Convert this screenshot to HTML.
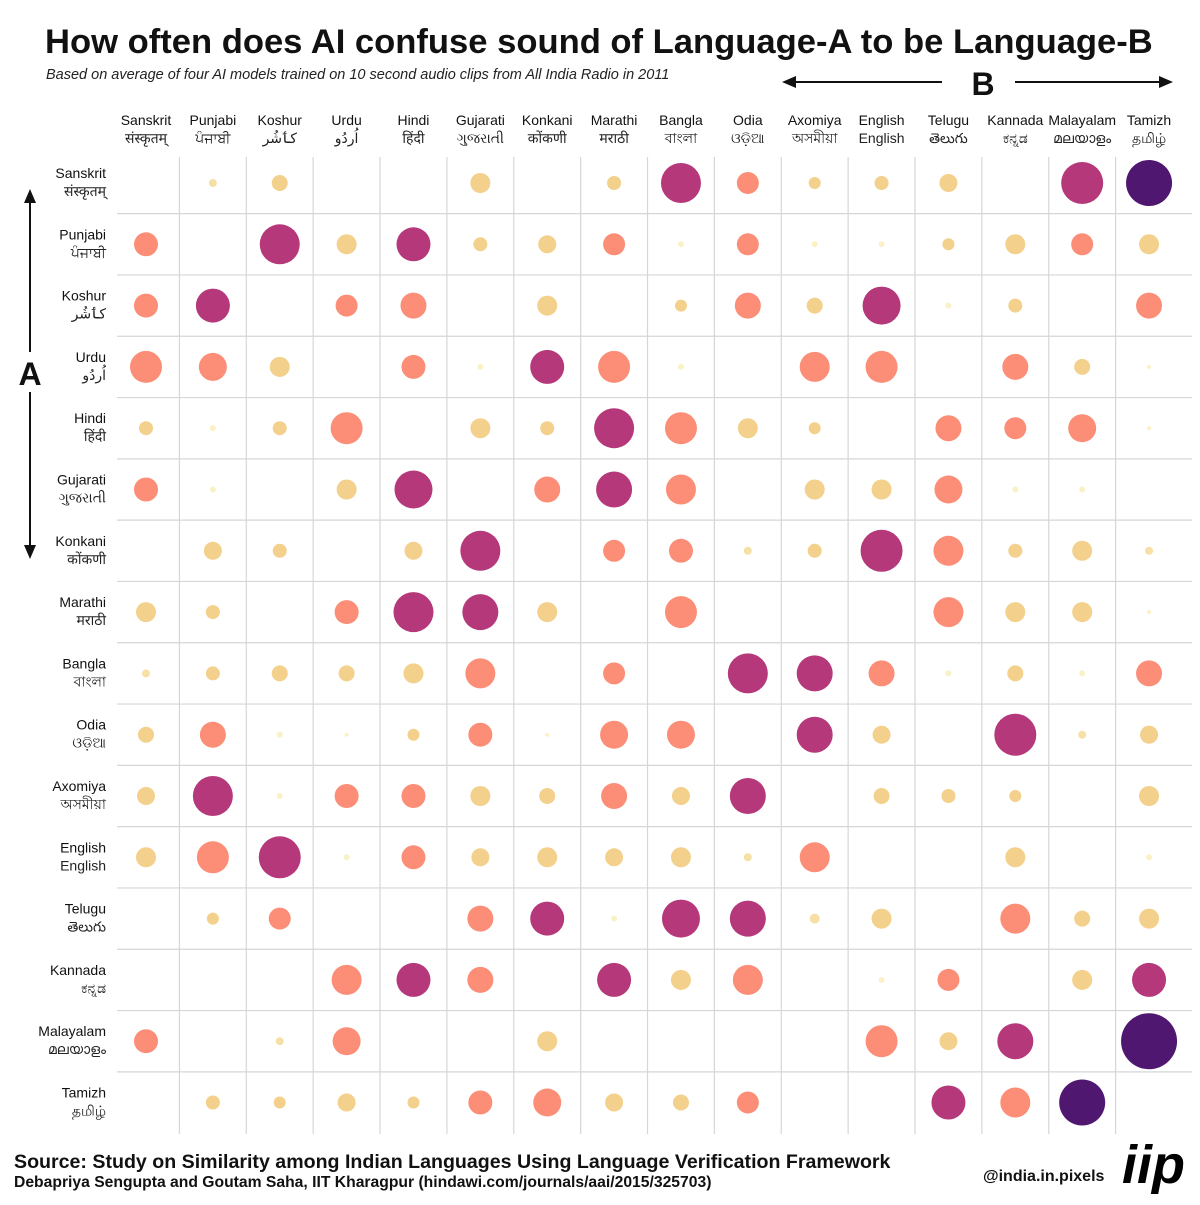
<!DOCTYPE html>
<html><head><meta charset="utf-8"><style>
body{margin:0;background:#fff;}
svg text{font-family:"Liberation Sans","DejaVu Sans",sans-serif;}
</style></head><body>
<svg id="chart" width="1200" height="1200" viewBox="0 0 1200 1200" xmlns="http://www.w3.org/2000/svg">
<rect width="1200" height="1200" fill="#fff"/>
<text x="45" y="53" font-size="34.6" font-weight="bold" fill="#111">How often does AI confuse sound of Language-A to be Language-B</text>
<text x="46" y="79" font-size="14.5" font-style="italic" fill="#222">Based on average of four AI models trained on 10 second audio clips from All India Radio in 2011</text>
<g>
<line x1="792" y1="82" x2="942" y2="82" stroke="#111" stroke-width="2"/>
<polygon points="782,82 796,76 796,88" fill="#111"/>
<text x="983" y="95" font-size="32" font-weight="bold" text-anchor="middle" fill="#111">B</text>
<line x1="1015" y1="82" x2="1162" y2="82" stroke="#111" stroke-width="2"/>
<polygon points="1173,82 1159,76 1159,88" fill="#111"/>
</g>
<g>
<line x1="30" y1="200" x2="30" y2="548" stroke="#111" stroke-width="2"/>
<polygon points="30,189 24,203 36,203" fill="#111"/>
<polygon points="30,559 24,545 36,545" fill="#111"/>
<rect x="12" y="352" width="36" height="40" fill="#fff"/>
<text x="30" y="385" font-size="32" font-weight="bold" text-anchor="middle" fill="#111">A</text>
</g>
<g id="grid"></g>
<g id="collabels"></g>
<g id="rowlabels"></g>
<g id="bubbles"></g>
<text x="14" y="1168" font-size="19.6" font-weight="bold" fill="#111">Source: Study on Similarity among Indian Languages Using Language Verification Framework</text>
<text x="14" y="1187" font-size="15.7" font-weight="bold" fill="#111">Debapriya Sengupta and Goutam Saha, IIT Kharagpur (hindawi.com/journals/aai/2015/325703)</text>
<text x="983" y="1181" font-size="16" font-weight="bold" fill="#111">@india.in.pixels</text>
<text x="1122" y="1183" font-size="54" font-weight="bold" font-style="italic" fill="#000">iip</text>
</svg>
<script>
const languages = ["Sanskrit","Punjabi","Koshur","Urdu","Hindi","Gujarati","Konkani","Marathi","Bangla","Odia","Axomiya","English","Telugu","Kannada","Malayalam","Tamizh"];
const nativeNames = ["संस्कृतम्","ਪੰਜਾਬੀ","کٲشُر","اُردُو","हिंदी","ગુજરાતી","कोंकणी","मराठी","বাংলা","ଓଡ଼ିଆ","অসমীয়া","English","తెలుగు","ಕನ್ನಡ","മലയാളം","தமிழ்"];
// confusion strength (bubble radius units), rows = Language-A, cols = Language-B
const rowSanskrit  = [0,4,8,0,0,10,0,7,20,11,6,7,9,0,21,23];
const rowPunjabi   = [12,0,20,10,17,7,9,11,3,11,3,3,6,10,11,10];
const rowKoshur    = [12,17,0,11,13,0,10,0,6,13,8,19,3,7,0,13];
const rowUrdu      = [16,14,10,0,12,3,17,16,3,0,15,16,0,13,8,2];
const rowHindi     = [7,3,7,16,0,10,7,20,16,10,6,0,13,11,14,2];
const rowGujarati  = [12,3,0,10,19,0,13,18,15,0,10,10,14,3,3,0];
const rowKonkani   = [0,9,7,0,9,20,0,11,12,4,7,21,15,7,10,4];
const rowMarathi   = [10,7,0,12,20,18,10,0,16,0,0,0,15,10,10,2];
const rowBangla    = [4,7,8,8,10,15,0,11,0,20,18,13,3,8,3,13];
const rowOdia      = [8,13,3,2,6,12,2,14,14,0,18,9,0,21,4,9];
const rowAxomiya   = [9,20,3,12,12,10,8,13,9,18,0,8,7,6,0,10];
const rowEnglish   = [10,16,21,3,12,9,10,9,10,4,15,0,0,10,0,3];
const rowTelugu    = [0,6,11,0,0,13,17,3,19,18,5,10,0,15,8,10];
const rowKannada   = [0,0,0,15,17,13,0,17,10,15,0,3,11,0,10,17];
const rowMalayalam = [12,0,4,14,0,0,10,0,0,0,0,16,9,18,0,28];
const rowTamizh    = [0,7,6,9,6,12,14,9,8,11,0,0,17,15,23,0];
const matrix = [rowSanskrit,rowPunjabi,rowKoshur,rowUrdu,rowHindi,rowGujarati,rowKonkani,rowMarathi,rowBangla,rowOdia,rowAxomiya,rowEnglish,rowTelugu,rowKannada,rowMalayalam,rowTamizh];

const NS="http://www.w3.org/2000/svg";
const x0=146, dx=66.87, y0=183, dy=61.3;
const xScale=i=>x0+i*dx;
const yScale=j=>y0+j*dy;
function rScale(v){return v;}
function colorOf(v){
  if(v<=3) return "#fbf1c6";
  if(v<=5) return "#f7e0a6";
  if(v<=10.5) return "#f3d08b";
  if(v<=16.5) return "#fc8d77";
  if(v<=22) return "#b5387a";
  return "#4f1770";
}
function mk(tag,attrs,parent){const e=document.createElementNS(NS,tag);for(const k in attrs)e.setAttribute(k,attrs[k]);parent.appendChild(e);return e;}

const grid=document.getElementById('grid');
for(let i=0;i<languages.length-1;i++){
  const x=xScale(i+0.5);
  const l=mk('line',{x1:x,y1:157,x2:x,y2:1134,stroke:"#d6d6d6","stroke-width":1.2},grid);
  
  
}
for(let j=0;j<languages.length-1;j++){
  const y=yScale(j+0.5);
  const l=mk('line',{x1:117,y1:y,x2:1192,y2:y,stroke:"#d6d6d6","stroke-width":1.2},grid);
  
  
}
const cl=document.getElementById('collabels');
languages.forEach((n,i)=>{
  const t=mk('text',{x:xScale(i),y:125,"font-size":14,"text-anchor":"middle",fill:"#111"},cl);
  t.textContent=n;
  
  
  const t2=mk('text',{x:xScale(i),y:143,"font-size":14,"text-anchor":"middle",fill:"#222"},cl);
  t2.textContent=nativeNames[i];
  
  
});
const rl=document.getElementById('rowlabels');
languages.forEach((n,j)=>{
  const t=mk('text',{x:106,y:yScale(j)-5,"font-size":14,"text-anchor":"end",fill:"#111"},rl);
  t.textContent=n;
  
  
  const t2=mk('text',{x:106,y:yScale(j)+13,"font-size":14,"text-anchor":"end",fill:"#222"},rl);
  t2.textContent=nativeNames[j];
  
  
});
const bg=document.getElementById('bubbles');
matrix.forEach((row,j)=>row.forEach((v,i)=>{
  if(!v) return;
  const c=mk('circle',{cx:xScale(i),cy:yScale(j),r:rScale(v),fill:colorOf(v)},bg);
  
  
}));
</script>
</body></html>
